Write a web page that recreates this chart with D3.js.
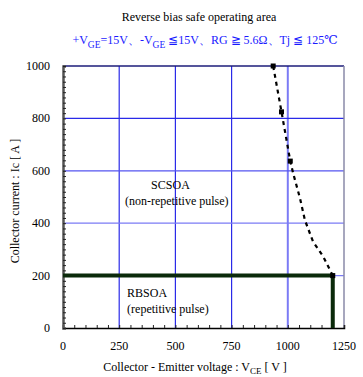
<!DOCTYPE html>
<html>
<head>
<meta charset="utf-8">
<script src="https://cdn.jsdelivr.net/npm/d3@7"></script>
<style>
  body { margin: 0; background: #fff; }
  text { font-family: "Liberation Serif", "DejaVu Serif", serif; }
</style>
</head>
<body>
<div class="chart"></div>
<script>
// SCSOA boundary (non-repetitive)
var scVolt = [935, 972, 1011, 1024, 1054, 1076, 1112, 1158, 1200];
var scCurr = [1000, 825, 637, 590, 496, 412, 330, 272, 200];
var scMarks = [0, 1, 2, 8];  // points drawn as small squares

// RBSOA rectangle corners
var rbVolt = [0, 1200, 1200];
var rbCurr = [200, 200, 0];

var xTicks = [0, 250, 500, 750, 1000, 1250];
var yTicks = [0, 200, 400, 600, 800, 1000];

var W = 363, H = 377;
var margin = {top: 66, right: 19, bottom: 49, left: 63},
    width = W - margin.left - margin.right,
    height = H - margin.top - margin.bottom;

var svg = d3.select("div.chart").append("svg")
    .attr("width", W)
    .attr("height", H);

var x = d3.scaleLinear().domain([0, 1250]).range([0, width]);
var y = d3.scaleLinear().domain([0, 1000]).range([height, 0]);

var g = svg.append("g")
    .attr("transform", "translate(" + margin.left + "," + margin.top + ")");

// grid lines, some lighter like in the original
var vGrid = [{v: 250, c: "#2a2ae8"}, {v: 500, c: "#2a2ae8"}, {v: 750, c: "#2a2ae8"}, {v: 1000, c: "#7b7bf5", w: 2}];
var hGrid = [{v: 200, c: "#7b7bf5"}, {v: 400, c: "#7b7bf5"}, {v: 600, c: "#5555f0"}, {v: 800, c: "#2a2ae8"}];

g.selectAll(".vg").data(vGrid).enter().append("line")
    .attr("x1", function (d) { return x(d.v); })
    .attr("x2", function (d) { return x(d.v); })
    .attr("y1", 0).attr("y2", height)
    .attr("stroke", function (d) { return d.c; })
    .attr("stroke-width", function (d) { return d.w || 1.2; });

g.selectAll(".hg").data(hGrid).enter().append("line")
    .attr("y1", function (d) { return y(d.v); })
    .attr("y2", function (d) { return y(d.v); })
    .attr("x1", 0).attr("x2", width)
    .attr("stroke", function (d) { return d.c; })
    .attr("stroke-width", 1.2);

// frame top / right
g.append("line").attr("x1", 0).attr("x2", width).attr("y1", 0).attr("y2", 0)
    .attr("stroke", "#1c1c7a").attr("stroke-width", 1.5);
g.append("line").attr("x1", width).attr("x2", width).attr("y1", 0).attr("y2", height)
    .attr("stroke", "#8a8aa8").attr("stroke-width", 1.5);

// Axes: inner minor ticks
var xAxis = d3.axisBottom(x).tickValues(d3.range(0, 1251, 50)).tickSize(-3).tickFormat("");
var yAxis = d3.axisLeft(y).tickValues(d3.range(0, 1001, 20)).tickSize(-3).tickFormat("");

var gx = g.append("g").attr("transform", "translate(0," + height + ")").call(xAxis);
gx.select(".domain").attr("stroke", "#000").attr("stroke-width", 1.5);
gx.selectAll(".tick line").attr("stroke", "#222");

var gy = g.append("g").call(yAxis);
gy.select(".domain").attr("stroke", "#555").attr("stroke-width", 2.5);
gy.selectAll(".tick line").attr("stroke", "#222");

// tick labels
g.selectAll(".xl").data(xTicks).enter().append("text")
    .attr("x", function (d) { return x(d); })
    .attr("y", height + 22)
    .attr("text-anchor", "middle")
    .attr("font-size", "12px")
    .text(function (d) { return d; });

g.selectAll(".yl").data(yTicks).enter().append("text")
    .attr("x", -13)
    .attr("y", function (d) { return y(d) + 4; })
    .attr("text-anchor", "end")
    .attr("font-size", "12px")
    .text(function (d) { return d; });

// RBSOA
var rb = rbVolt.map(function (v, i) { return [v, rbCurr[i]]; });
g.append("path")
    .datum(rb)
    .attr("d", d3.line().x(function (d) { return x(d[0]); }).y(function (d) { return y(d[1]); }))
    .attr("fill", "none")
    .attr("stroke", "#0b2a0b")
    .attr("stroke-width", 4);

// SCSOA dashed
var sc = scVolt.map(function (v, i) { return [v, scCurr[i]]; });
g.append("path")
    .datum(sc)
    .attr("d", d3.line().x(function (d) { return x(d[0]); }).y(function (d) { return y(d[1]); }))
    .attr("fill", "none")
    .attr("stroke", "#000")
    .attr("stroke-width", 2.2)
    .attr("stroke-dasharray", "4,4");

g.selectAll(".mk").data(scMarks).enter().append("rect")
    .attr("x", function (i) { return x(scVolt[i]) - 2.5; })
    .attr("y", function (i) { return y(scCurr[i]) - 2.5; })
    .attr("width", 5).attr("height", 5)
    .attr("fill", "#000");

// annotations
g.append("text").attr("x", x(478)).attr("y", y(530)).attr("text-anchor", "middle")
    .attr("font-size", "12px").text("SCSOA");
g.append("text").attr("x", x(506)).attr("y", y(470)).attr("text-anchor", "middle")
    .attr("font-size", "12px").text("(non-repetitive pulse)");
g.append("text").attr("x", x(285)).attr("y", y(120)).attr("font-size", "12px").text("RBSOA");
g.append("text").attr("x", x(285)).attr("y", y(58)).attr("font-size", "12px").text("(repetitive pulse)");

// titles
svg.append("text").attr("x", 199).attr("y", 21).attr("text-anchor", "middle")
    .attr("font-size", "12px").attr("fill", "#000")
    .text("Reverse bias safe operating area");

var sub = svg.append("text").attr("x", 205).attr("y", 44).attr("text-anchor", "middle")
    .attr("font-size", "12px").attr("fill", "#1a1aff");
sub.append("tspan").text("+V");
sub.append("tspan").attr("dy", 4).attr("font-size", "9.5px").text("GE");
sub.append("tspan").attr("dy", -4).text("=15V、-V");
sub.append("tspan").attr("dy", 4).attr("font-size", "9.5px").text("GE");
sub.append("tspan").attr("dy", -4).text(" ≦15V、RG ≧ 5.6Ω、Tj ≦ 125℃");

var xl = svg.append("text").attr("x", 195).attr("y", 371).attr("text-anchor", "middle")
    .attr("font-size", "12px");
xl.append("tspan").text("Collector - Emitter voltage  :  V");
xl.append("tspan").attr("dy", 3).attr("font-size", "9px").text("CE");
xl.append("tspan").attr("dy", -3).text(" [ V ]");

svg.append("text")
    .attr("transform", "translate(19,201) rotate(-90)")
    .attr("text-anchor", "middle")
    .attr("font-size", "12px")
    .text("Collector current : Ic  [ A ]");
</script>
</body>
</html>
